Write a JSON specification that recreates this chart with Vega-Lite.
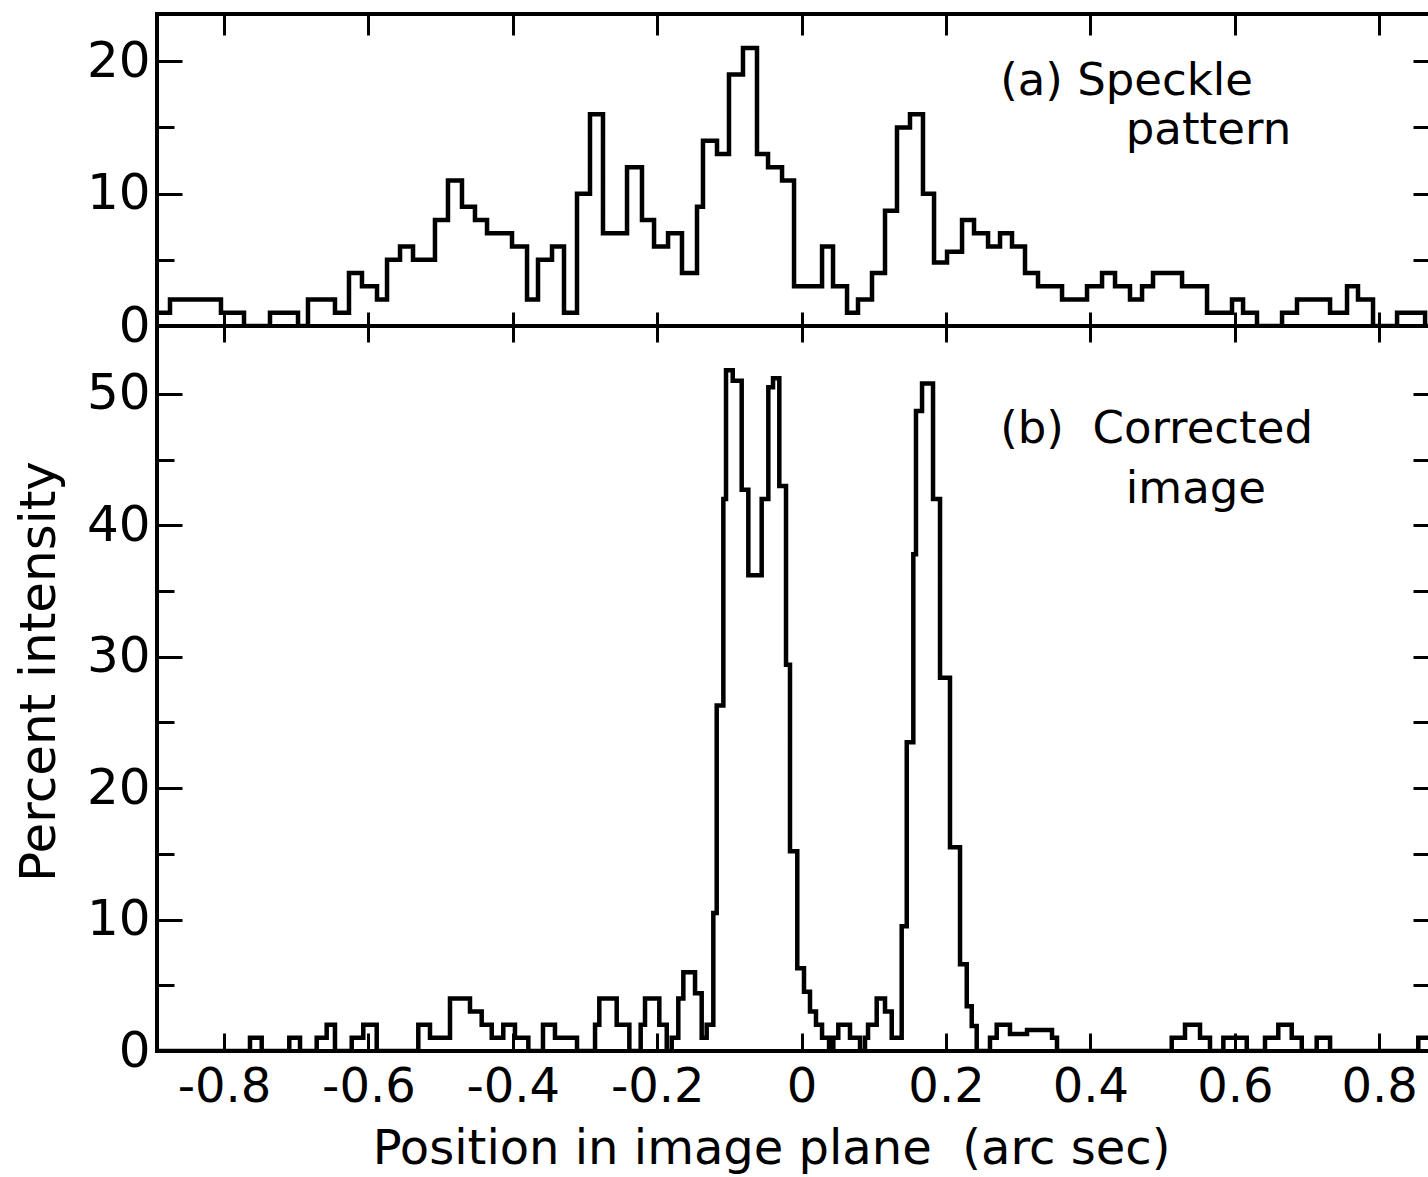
{
  "$schema": "https://vega.github.io/schema/vega-lite/v6.json",
  "background": "white",
  "padding": {"left": 12, "top": 10, "right": 0, "bottom": 0},
  "spacing": 0,
  "bounds": "flush",
  "config": {
    "view": {"stroke": "black", "strokeWidth": 4},
    "font": "DejaVu Sans",
    "axis": {"domain": false, "grid": false, "ticks": true, "tickColor": "black", "tickWidth": 3, "labelColor": "black", "titleColor": "black", "labelFont": "DejaVu Sans", "titleFont": "DejaVu Sans", "titleFontWeight": "normal"}
  },
  "datasets": {
    "speckle": [
      {"x": -0.8928, "y": 1}, {"x": -0.8748, "y": 2}, {"x": -0.8042, "y": 1}, {"x": -0.7723, "y": 0}, {"x": -0.7363, "y": 1}, {"x": -0.6975, "y": 0}, {"x": -0.6837, "y": 2}, {"x": -0.6463, "y": 1}, {"x": -0.6269, "y": 4}, {"x": -0.6089, "y": 3}, {"x": -0.5881, "y": 2}, {"x": -0.5742, "y": 5}, {"x": -0.5562, "y": 6}, {"x": -0.5382, "y": 5}, {"x": -0.5078, "y": 8}, {"x": -0.4898, "y": 11}, {"x": -0.4704, "y": 9}, {"x": -0.4524, "y": 8}, {"x": -0.4357, "y": 7}, {"x": -0.4011, "y": 6}, {"x": -0.3803, "y": 2}, {"x": -0.3651, "y": 5}, {"x": -0.3457, "y": 6}, {"x": -0.3291, "y": 1}, {"x": -0.3111, "y": 10}, {"x": -0.2931, "y": 16}, {"x": -0.2751, "y": 7}, {"x": -0.2418, "y": 12}, {"x": -0.2211, "y": 8}, {"x": -0.2044, "y": 6}, {"x": -0.185, "y": 7}, {"x": -0.1657, "y": 4}, {"x": -0.1449, "y": 9}, {"x": -0.1366, "y": 14}, {"x": -0.1172, "y": 13}, {"x": -0.1006, "y": 19}, {"x": -0.0812, "y": 21}, {"x": -0.0618, "y": 13}, {"x": -0.0465, "y": 12}, {"x": -0.0271, "y": 11}, {"x": -0.0105, "y": 3}, {"x": 0.0283, "y": 6}, {"x": 0.0435, "y": 3}, {"x": 0.0629, "y": 1}, {"x": 0.0781, "y": 2}, {"x": 0.0975, "y": 4}, {"x": 0.1155, "y": 8.7}, {"x": 0.1321, "y": 15}, {"x": 0.1501, "y": 16}, {"x": 0.1681, "y": 10}, {"x": 0.1834, "y": 4.8}, {"x": 0.2014, "y": 5.6}, {"x": 0.2222, "y": 8}, {"x": 0.2388, "y": 7}, {"x": 0.2582, "y": 6}, {"x": 0.2748, "y": 7}, {"x": 0.2914, "y": 6}, {"x": 0.3094, "y": 4}, {"x": 0.3274, "y": 3}, {"x": 0.3607, "y": 2}, {"x": 0.3953, "y": 3}, {"x": 0.4161, "y": 4}, {"x": 0.4341, "y": 3}, {"x": 0.4548, "y": 2}, {"x": 0.4715, "y": 3}, {"x": 0.4867, "y": 4}, {"x": 0.5269, "y": 3}, {"x": 0.5615, "y": 1}, {"x": 0.5961, "y": 2}, {"x": 0.6114, "y": 1}, {"x": 0.6307, "y": 0}, {"x": 0.6654, "y": 1}, {"x": 0.6861, "y": 2}, {"x": 0.7319, "y": 1}, {"x": 0.7554, "y": 3}, {"x": 0.7706, "y": 2}, {"x": 0.7914, "y": 0}, {"x": 0.8247, "y": 1}, {"x": 0.8635, "y": 0}, {"x": 0.8717, "y": 0}
    ],
    "corrected": [
      {"x": -0.8928, "y": 0}, {"x": -0.764, "y": 1}, {"x": -0.7478, "y": 0}, {"x": -0.7096, "y": 1}, {"x": -0.6947, "y": 0}, {"x": -0.6716, "y": 1}, {"x": -0.6578, "y": 2}, {"x": -0.6463, "y": 0}, {"x": -0.6231, "y": 1}, {"x": -0.6071, "y": 2}, {"x": -0.5885, "y": 0}, {"x": -0.5309, "y": 2}, {"x": -0.5147, "y": 1}, {"x": -0.487, "y": 4}, {"x": -0.4593, "y": 3}, {"x": -0.4431, "y": 2}, {"x": -0.4292, "y": 1}, {"x": -0.4132, "y": 2}, {"x": -0.397, "y": 1}, {"x": -0.3785, "y": 0}, {"x": -0.3582, "y": 2}, {"x": -0.3416, "y": 1}, {"x": -0.3111, "y": 0}, {"x": -0.2861, "y": 2}, {"x": -0.2802, "y": 4}, {"x": -0.2561, "y": 2}, {"x": -0.2386, "y": 0}, {"x": -0.2229, "y": 2}, {"x": -0.2169, "y": 4}, {"x": -0.1971, "y": 2}, {"x": -0.1868, "y": 0}, {"x": -0.1799, "y": 1}, {"x": -0.1708, "y": 4}, {"x": -0.1638, "y": 6}, {"x": -0.1476, "y": 4.4}, {"x": -0.1384, "y": 1}, {"x": -0.1315, "y": 2}, {"x": -0.1223, "y": 10.5}, {"x": -0.1176, "y": 26.3}, {"x": -0.1084, "y": 42}, {"x": -0.1047, "y": 51.8}, {"x": -0.0954, "y": 51}, {"x": -0.083, "y": 42.7}, {"x": -0.0738, "y": 36.2}, {"x": -0.0553, "y": 42}, {"x": -0.0461, "y": 50.5}, {"x": -0.0396, "y": 51.2}, {"x": -0.0309, "y": 43}, {"x": -0.0216, "y": 29.4}, {"x": -0.0161, "y": 15.2}, {"x": -0.006, "y": 6.3}, {"x": 0.0033, "y": 4.5}, {"x": 0.0116, "y": 3}, {"x": 0.0199, "y": 2}, {"x": 0.0283, "y": 1}, {"x": 0.038, "y": 0}, {"x": 0.0439, "y": 1}, {"x": 0.0508, "y": 2}, {"x": 0.067, "y": 1}, {"x": 0.0809, "y": 0}, {"x": 0.0878, "y": 1}, {"x": 0.092, "y": 2}, {"x": 0.104, "y": 4}, {"x": 0.1155, "y": 3}, {"x": 0.1248, "y": 1}, {"x": 0.1386, "y": 9.5}, {"x": 0.1456, "y": 23.5}, {"x": 0.1547, "y": 37.8}, {"x": 0.1584, "y": 48.7}, {"x": 0.1668, "y": 50.8}, {"x": 0.182, "y": 42}, {"x": 0.1917, "y": 28.4}, {"x": 0.2055, "y": 15.5}, {"x": 0.2194, "y": 6.6}, {"x": 0.2287, "y": 3.4}, {"x": 0.2356, "y": 1.9}, {"x": 0.2425, "y": 0}, {"x": 0.2609, "y": 1}, {"x": 0.2702, "y": 2}, {"x": 0.2886, "y": 1.3}, {"x": 0.3122, "y": 1.6}, {"x": 0.3468, "y": 1}, {"x": 0.3537, "y": 0}, {"x": 0.5126, "y": 1}, {"x": 0.531, "y": 2}, {"x": 0.5518, "y": 1}, {"x": 0.5656, "y": 0}, {"x": 0.5841, "y": 1}, {"x": 0.6165, "y": 0}, {"x": 0.6418, "y": 1}, {"x": 0.6602, "y": 2}, {"x": 0.6788, "y": 1}, {"x": 0.6927, "y": 0}, {"x": 0.7134, "y": 1}, {"x": 0.7319, "y": 0}, {"x": 0.8541, "y": 1}, {"x": 0.8717, "y": 1}
    ]
  },
  "vconcat": [
    {
      "width": 1274,
      "height": 312,
      "layer": [
        {
          "data": {"name": "speckle"},
          "mark": {"type": "line", "interpolate": "step-after", "color": "black", "strokeWidth": 4.5, "clip": true},
          "encoding": {
            "x": {"field": "x", "type": "quantitative", "scale": {"domain": [-0.8928, 0.8717], "nice": false, "zero": false},
              "axis": {"orient": "bottom", "values": [-0.8, -0.6, -0.4, -0.2, 0, 0.2, 0.4, 0.6, 0.8], "labels": false, "tickSize": -14, "title": null}},
            "y": {"field": "y", "type": "quantitative", "scale": {"domain": [0, 23.57], "nice": false},
              "axis": {"orient": "left", "values": [0, 5, 10, 15, 20], "labelExpr": "datum.value % 10 === 0 ? datum.label : ''", "tickSize": {"signal": "datum.value % 10 === 0 ? -25 : -17"}, "labelFontSize": 50, "labelPadding": 32, "labelBaseline": "middle", "title": " ", "titleFontSize": 50, "titlePadding": 22}}
          }
        },
        {
          "data": {"name": "speckle"},
          "mark": {"type": "line", "interpolate": "step-after", "opacity": 0},
          "encoding": {
            "x": {"field": "x", "type": "quantitative", "axis": {"orient": "top", "values": [-0.8, -0.6, -0.4, -0.2, 0, 0.2, 0.4, 0.6, 0.8], "labels": false, "tickSize": -21, "title": null}},
            "y": {"field": "y", "type": "quantitative", "axis": {"orient": "right", "values": [0, 5, 10, 15, 20], "labels": false, "tickSize": -18, "title": null}}
          }
        },
        {
          "data": {"values": [{}]},
          "mark": {"type": "text", "text": "(a)\u00a0Speckle", "align": "left", "baseline": "middle", "fontSize": 45, "color": "black"},
          "encoding": {"x": {"datum": 0.275, "axis": null}, "y": {"datum": 18.5, "axis": null}}
        },
        {
          "data": {"values": [{}]},
          "mark": {"type": "text", "text": "pattern", "align": "left", "baseline": "middle", "fontSize": 45, "color": "black"},
          "encoding": {"x": {"datum": 0.449, "axis": null}, "y": {"datum": 14.8, "axis": null}}
        }
      ],
      "resolve": {"axis": {"x": "independent", "y": "independent"}}
    },
    {
      "width": 1274,
      "height": 725,
      "layer": [
        {
          "data": {"name": "corrected"},
          "mark": {"type": "line", "interpolate": "step-after", "color": "black", "strokeWidth": 4.5, "clip": true},
          "encoding": {
            "x": {"field": "x", "type": "quantitative", "scale": {"domain": [-0.8928, 0.8717], "nice": false, "zero": false},
              "axis": {"orient": "bottom", "values": [-0.8, -0.6, -0.4, -0.2, 0, 0.2, 0.4, 0.6, 0.8], "labelExpr": "datum.value == 0 ? '0' : (datum.value < 0 ? '-' : '') + format(abs(datum.value), '.1f')", "tickSize": -18, "labelFontSize": 48, "labelPadding": 30, "title": "Position in image plane\u00a0\u00a0(arc sec)", "titleFontSize": 48, "titlePadding": 14, "titleX": 614}},
            "y": {"field": "y", "type": "quantitative", "scale": {"domain": [0, 55.17], "nice": false},
              "axis": {"orient": "left", "values": [0, 5, 10, 15, 20, 25, 30, 35, 40, 45, 50], "labelExpr": "datum.value % 10 === 0 ? datum.label : ''", "tickSize": {"signal": "datum.value % 10 === 0 ? -25 : -17"}, "labelFontSize": 50, "labelPadding": 32, "labelBaseline": "middle", "title": "Percent intensity", "titleFontSize": 50, "titlePadding": 22, "titleY": 345}}
          }
        },
        {
          "data": {"name": "corrected"},
          "mark": {"type": "line", "interpolate": "step-after", "opacity": 0},
          "encoding": {
            "x": {"field": "x", "type": "quantitative", "axis": {"orient": "top", "values": [-0.8, -0.6, -0.4, -0.2, 0, 0.2, 0.4, 0.6, 0.8], "labels": false, "tickSize": -16, "title": null}},
            "y": {"field": "y", "type": "quantitative", "axis": {"orient": "right", "values": [0, 5, 10, 15, 20, 25, 30, 35, 40, 45, 50], "labels": false, "tickSize": -18, "title": null}}
          }
        },
        {
          "data": {"values": [{}]},
          "mark": {"type": "text", "text": "(b)\u00a0\u00a0Corrected", "align": "left", "baseline": "middle", "fontSize": 45, "color": "black"},
          "encoding": {"x": {"datum": 0.275, "axis": null}, "y": {"datum": 47.3, "axis": null}}
        },
        {
          "data": {"values": [{}]},
          "mark": {"type": "text", "text": "image", "align": "left", "baseline": "middle", "fontSize": 45, "color": "black"},
          "encoding": {"x": {"datum": 0.449, "axis": null}, "y": {"datum": 42.8, "axis": null}}
        }
      ],
      "resolve": {"axis": {"x": "independent", "y": "independent"}}
    }
  ]
}
